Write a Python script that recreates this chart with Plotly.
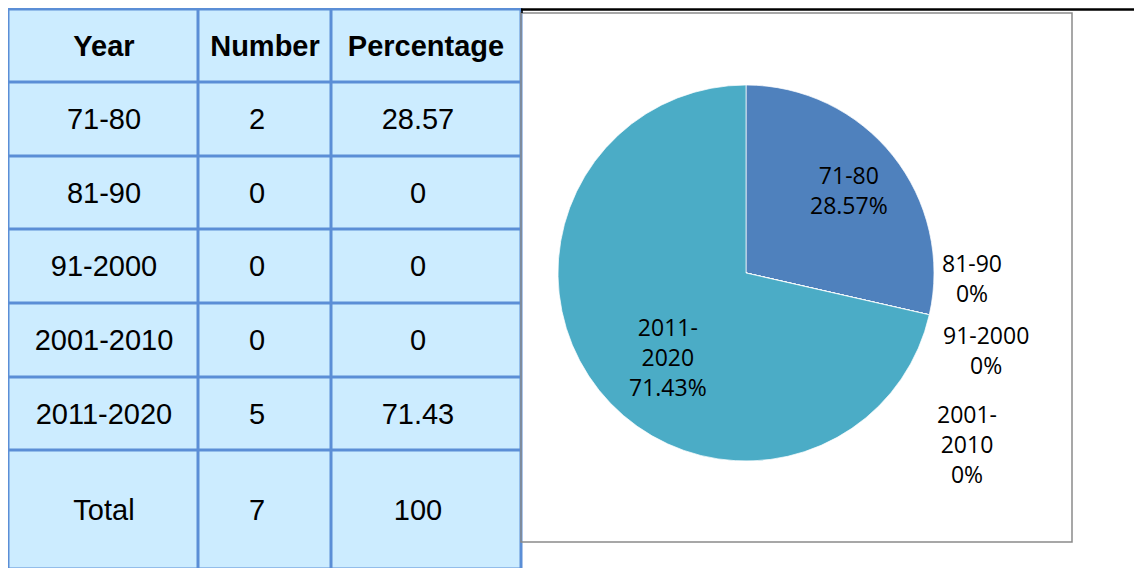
import plotly.graph_objects as go

# ---------------- data ----------------
headers = ["Year", "Number", "Percentage"]
years = ["71-80", "81-90", "91-2000", "2001-2010", "2011-2020"]
numbers = [2, 0, 0, 0, 5]
percentages = [28.57, 0, 0, 0, 71.43]
total_label = "Total"
total_number = 7
total_percentage = 100

# pie label text (line-broken as in the chart)
pie_label_text = ["71-80", "81-90", "91-2000", "2001-<br>2010", "2011-<br>2020"]

# ---------------- layout constants ----------------
PAGE_W, PAGE_H = 1142, 568
OFF = 8                      # default page body margin
W, H = PAGE_W - OFF, PAGE_H - OFF


def px(x):
    return (x - OFF) / W


def py(y):
    return (H - (y - OFF)) / H


BORDER = "#5B8ED6"
FILL = "#CCECFF"
col_widths = [190, 133, 189.5]
row_heights = [73, 73.5, 73.5, 73.5, 74, 73.5, 119]
gap = 3
tbl_left_px, tbl_top_px = 8.5, 9.5
PAD = "\u00a0\u00a0"         # cell contents of number columns sit slightly left of centre


def fmt(v):
    return f"{v:g}"


# table cell text, top to bottom
rows = [[f"<b>{h}</b>" for h in headers]]
for y, n, p in zip(years, numbers, percentages):
    rows.append([y, fmt(n) + PAD, fmt(p) + PAD])
rows.append([total_label, fmt(total_number) + PAD, fmt(total_percentage) + PAD])

x_edges = [0]
for w in col_widths:
    x_edges.append(x_edges[-1] + w)
y_edges = [0]
for h in row_heights:
    y_edges.append(y_edges[-1] + h)

# axis ranges (data units == pixels), clipped to the figure
x_left = max(-gap / 2, OFF - tbl_left_px)
xr = [x_left, x_edges[-1] + gap / 2]
y_top = max(-gap / 2, OFF - tbl_top_px)
yr_bottom = PAGE_H - tbl_top_px
yr = [yr_bottom, y_top]
x_dom = [px(tbl_left_px + xr[0]), px(tbl_left_px + xr[1])]
y_dom = [max(0.0, py(tbl_top_px + yr_bottom)), min(1.0, py(tbl_top_px + y_top))]

fig = go.Figure()
fig.add_trace(go.Heatmap(
    z=[[0] * len(headers) for _ in rows],
    x=x_edges, y=y_edges,
    text=rows, texttemplate="%{text}",
    textfont=dict(family="Liberation Sans, Arial, sans-serif", size=29, color="black"),
    colorscale=[[0, FILL], [1, FILL]], showscale=False,
    xgap=gap, ygap=gap, hoverinfo="skip",
))

# ---------------- pie ----------------
cx, cy, r = 746, 273, 188
fig.add_trace(go.Pie(
    labels=years, values=numbers, textinfo="none",
    sort=False, direction="clockwise", rotation=0,
    marker=dict(colors=["#4F81BD", "#C0504D", "#9BBB59", "#8064A2", "#4BACC6"],
                line=dict(color="rgba(255,255,255,0.7)", width=1)),
    domain=dict(x=[px(cx - r), px(cx + r)], y=[py(cy + r), py(cy - r)]),
    showlegend=False, hoverinfo="skip",
))

# data labels, placed as in the chart
label_pos = {0: (849, 190), 1: (972, 278), 2: (986, 350), 3: (967, 444), 4: (668, 357)}
for i, (lx, ly) in label_pos.items():
    fig.add_annotation(
        x=px(lx), y=py(ly), xref="paper", yref="paper",
        text=f"{pie_label_text[i]}<br>{fmt(percentages[i])}%",
        showarrow=False, xanchor="center", yanchor="middle",
        font=dict(family="Open Sans, sans-serif", size=23, color="black"),
    )

# chart frame and the black rule on top
fig.add_shape(type="rect", xref="paper", yref="paper",
              x0=px(521), x1=px(1072), y0=py(542), y1=py(13),
              line=dict(color="#8A8A8A", width=1.5), fillcolor="rgba(0,0,0,0)")
fig.add_shape(type="line", xref="paper", yref="paper",
              x0=px(521), x1=1.0, y0=py(9.5), y1=py(9.5),
              line=dict(color="black", width=2.5))
fig.add_shape(type="line", xref="paper", yref="paper",
              x0=px(522), x1=px(522), y0=py(9), y1=py(13),
              line=dict(color="black", width=1.5))

fig.update_layout(
    width=W, height=H, margin=dict(l=0, r=0, t=0, b=0),
    paper_bgcolor="white", plot_bgcolor=BORDER,
    xaxis=dict(domain=x_dom, range=xr, visible=False, fixedrange=True),
    yaxis=dict(domain=y_dom, range=yr, visible=False, fixedrange=True),
)

fig.write_html("out.html")
